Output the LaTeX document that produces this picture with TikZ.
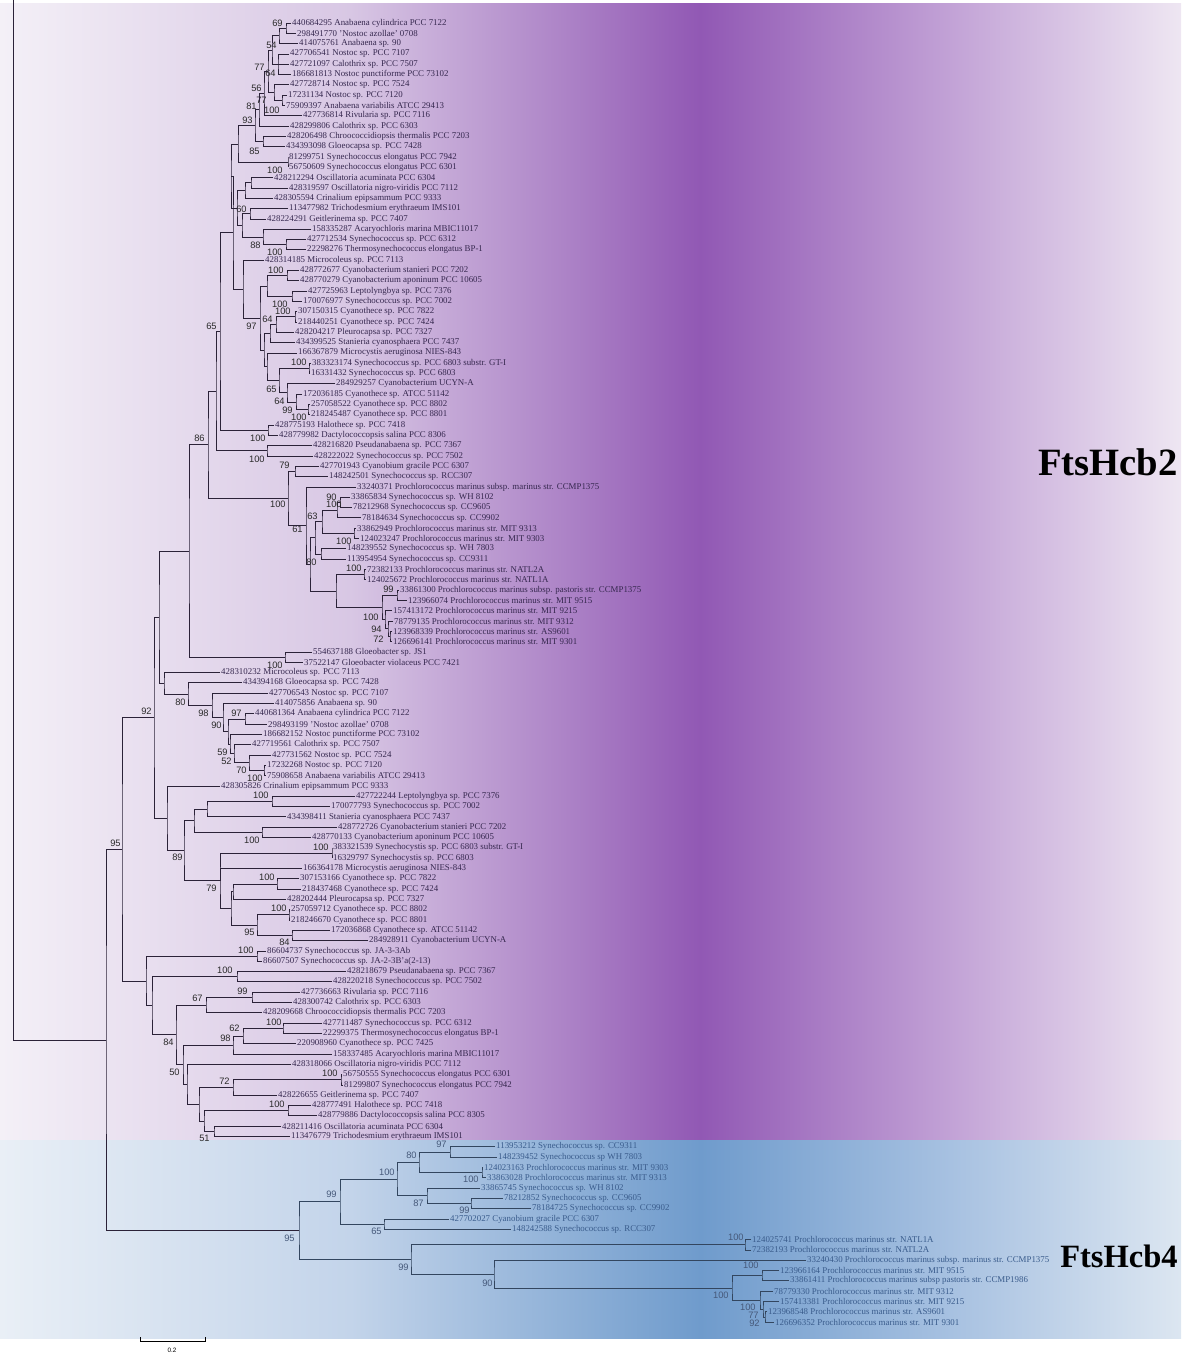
\documentclass[tikz,border=0pt]{standalone}
\usepackage{fontspec}
\setmainfont{Liberation Serif}
\newfontfamily\bootfont{Liberation Sans}
\usetikzlibrary{calc}

\definecolor{pl0}{HTML}{F4F0F7}
\definecolor{pl1}{HTML}{D8C7E4}
\definecolor{pl2}{HTML}{9158B4}
\definecolor{pl3}{HTML}{C2A2D6}
\definecolor{pl4}{HTML}{EEE6F2}
\definecolor{bl0}{HTML}{E9EFF6}
\definecolor{bl1}{HTML}{C3D4EA}
\definecolor{bl2}{HTML}{6F9BCC}
\definecolor{bl3}{HTML}{A7C1E1}
\definecolor{bl4}{HTML}{DCE6F1}
\definecolor{linep}{HTML}{2B2238}
\definecolor{leafp}{HTML}{36284F}
\definecolor{bootp}{HTML}{2A2A2A}
\definecolor{lineb}{HTML}{33465F}
\definecolor{leafbl}{HTML}{3A5C8C}
\definecolor{bootb}{HTML}{46597A}

\tikzset{
	branch/.style={line width=0.45pt, draw=linep},
	leaf/.style={anchor=west, inner xsep=0.5pt, inner ysep=0pt, text=leafp, font=\fontsize{5.05}{5.2}\selectfont},
	leafb/.style={leaf, text=leafbl},
	boot/.style={anchor=east, inner sep=0pt, text=bootp, font=\bootfont\fontsize{5.3}{6}\selectfont},
	cladename/.style={anchor=east, inner sep=0pt, font=\bfseries\fontsize{22}{24}\selectfont},
	scalelab/.style={inner sep=0pt, font=\bootfont\fontsize{3.6}{4}\selectfont}
}

% leaf: [style]{name}{row}{x}{label}
\newcommand{\leaf}[5][leaf]{\node[#1] (#2) at (#4,{23+(#3-1)*10.31}) {#5};}
% clade: {name}{x}{top child}{bottom child}{bootstrap}{bootstrap position}
\newcommand{\clade}[6]{%
	\path ($(#3)!.5!(#4)$) coordinate (#1m);
	\coordinate (#1) at (#2,0 |- #1m);
	\draw[branch] (#3) -| (#1) |- (#4);
	\if\relax\detokenize{#5}\relax\else\node[boot] (#1b) at (#6) {#5};\fi}

\begin{document}
\begin{tikzpicture}[x=0.02cm, y=-0.02cm]
	\useasboundingbox (0,0) rectangle (1181,1353);

	% background bands
	\fill[left color=pl0, right color=pl1] (0,3) rectangle (351,1140);
	\fill[left color=pl1, right color=pl2] (350,3) rectangle (701,1140);
	\fill[left color=pl2, right color=pl3] (700,3) rectangle (951,1140);
	\fill[left color=pl3, right color=pl4] (950,3) rectangle (1181,1140);
	\fill[left color=bl0, right color=bl1] (0,1140) rectangle (351,1338);
	\fill[left color=bl1, right color=bl2] (350,1140) rectangle (701,1338);
	\fill[left color=bl2, right color=bl3] (700,1140) rectangle (951,1338);
	\fill[left color=bl3, right color=bl4] (950,1140) rectangle (1181,1338);

	% FtsHcb2 leaves
	\leaf{L1}{1}{291}{440684295 Anabaena cylindrica PCC 7122}
	\leaf{L2}{2}{296}{298491770 'Nostoc azollae' 0708}
	\leaf{L3}{3}{298}{414075761 Anabaena sp. 90}
	\leaf{L4}{4}{289}{427706541 Nostoc sp. PCC 7107}
	\leaf{L5}{5}{289}{427721097 Calothrix sp. PCC 7507}
	\leaf{L6}{6}{291}{186681813 Nostoc punctiforme PCC 73102}
	\leaf{L7}{7}{289}{427728714 Nostoc sp. PCC 7524}
	\leaf{L8}{8}{287}{17231134 Nostoc sp. PCC 7120}
	\leaf{L9}{9}{285}{75909397 Anabaena variabilis ATCC 29413}
	\leaf{L10}{10}{302}{427736814 Rivularia sp. PCC 7116}
	\leaf{L11}{11}{289}{428299806 Calothrix sp. PCC 6303}
	\leaf{L12}{12}{286}{428206498 Chroococcidiopsis thermalis PCC 7203}
	\leaf{L13}{13}{285}{434393098 Gloeocapsa sp. PCC 7428}
	\leaf{L14}{14}{288}{81299751 Synechococcus elongatus PCC 7942}
	\leaf{L15}{15}{288}{56750609 Synechococcus elongatus PCC 6301}
	\leaf{L16}{16}{273}{428212294 Oscillatoria acuminata PCC 6304}
	\leaf{L17}{17}{288}{428319597 Oscillatoria nigro-viridis PCC 7112}
	\leaf{L18}{18}{273}{428305594 Crinalium epipsammum PCC 9333}
	\leaf{L19}{19}{288}{113477982 Trichodesmium erythraeum IMS101}
	\leaf{L20}{20}{266}{428224291 Geitlerinema sp. PCC 7407}
	\leaf{L21}{21}{311}{158335287 Acaryochloris marina MBIC11017}
	\leaf{L22}{22}{306}{427712534 Synechococcus sp. PCC 6312}
	\leaf{L23}{23}{306}{22298276 Thermosynechococcus elongatus BP-1}
	\leaf{L24}{24}{264}{428314185 Microcoleus sp. PCC 7113}
	\leaf{L25}{25}{299}{428772677 Cyanobacterium stanieri PCC 7202}
	\leaf{L26}{26}{299}{428770279 Cyanobacterium aponinum PCC 10605}
	\leaf{L27}{27}{307}{427725963 Leptolyngbya sp. PCC 7376}
	\leaf{L28}{28}{302}{170076977 Synechococcus sp. PCC 7002}
	\leaf{L29}{29}{297}{307150315 Cyanothece sp. PCC 7822}
	\leaf{L30}{30}{297}{218440251 Cyanothece sp. PCC 7424}
	\leaf{L31}{31}{294}{428204217 Pleurocapsa sp. PCC 7327}
	\leaf{L32}{32}{295}{434399525 Stanieria cyanosphaera PCC 7437}
	\leaf{L33}{33}{297}{166367879 Microcystis aeruginosa NIES-843}
	\leaf{L34}{34}{311}{383323174 Synechococcus sp. PCC 6803 substr. GT-I}
	\leaf{L35}{35}{310}{16331432 Synechococcus sp. PCC 6803}
	\leaf{L36}{36}{335}{284929257 Cyanobacterium UCYN-A}
	\leaf{L37}{37}{302}{172036185 Cyanothece sp. ATCC 51142}
	\leaf{L38}{38}{310}{257058522 Cyanothece sp. PCC 8802}
	\leaf{L39}{39}{310}{218245487 Cyanothece sp. PCC 8801}
	\leaf{L40}{40}{274}{428775193 Halothece sp. PCC 7418}
	\leaf{L41}{41}{278}{428779982 Dactylococcopsis salina PCC 8306}
	\leaf{L42}{42}{312}{428216820 Pseudanabaena sp. PCC 7367}
	\leaf{L43}{43}{313}{428222022 Synechococcus sp. PCC 7502}
	\leaf{L44}{44}{319}{427701943 Cyanobium gracile PCC 6307}
	\leaf{L45}{45}{328}{148242501 Synechococcus sp. RCC307}
	\leaf{L46}{46}{356}{33240371 Prochlorococcus marinus subsp. marinus str. CCMP1375}
	\leaf{L47}{47}{350}{33865834 Synechococcus sp. WH 8102}
	\leaf{L48}{48}{352}{78212968 Synechococcus sp. CC9605}
	\leaf{L49}{49}{361}{78184634 Synechococcus sp. CC9902}
	\leaf{L50}{50}{356}{33862949 Prochlorococcus marinus str. MIT 9313}
	\leaf{L51}{51}{359}{124023247 Prochlorococcus marinus str. MIT 9303}
	\leaf{L52}{52}{346}{148239552 Synechococcus sp. WH 7803}
	\leaf{L53}{53}{346}{113954954 Synechococcus sp. CC9311}
	\leaf{L54}{54}{366}{72382133 Prochlorococcus marinus str. NATL2A}
	\leaf{L55}{55}{366}{124025672 Prochlorococcus marinus str. NATL1A}
	\leaf{L56}{56}{399}{33861300 Prochlorococcus marinus subsp. pastoris str. CCMP1375}
	\leaf{L57}{57}{407}{123966074 Prochlorococcus marinus str. MIT 9515}
	\leaf{L58}{58}{392}{157413172 Prochlorococcus marinus str. MIT 9215}
	\leaf{L59}{59}{393}{78779135 Prochlorococcus marinus str. MIT 9312}
	\leaf{L60}{60}{392}{123968339 Prochlorococcus marinus str. AS9601}
	\leaf{L61}{61}{392}{126696141 Prochlorococcus marinus str. MIT 9301}
	\leaf{L62}{62}{312}{554637188 Gloeobacter sp. JS1}
	\leaf{L63}{63}{303}{37522147 Gloeobacter violaceus PCC 7421}
	\leaf{L64}{64}{220}{428310232 Microcoleus sp. PCC 7113}
	\leaf{L65}{65}{242}{434394168 Gloeocapsa sp. PCC 7428}
	\leaf{L66}{66}{268}{427706543 Nostoc sp. PCC 7107}
	\leaf{L67}{67}{274}{414075856 Anabaena sp. 90}
	\leaf{L68}{68}{254}{440681364 Anabaena cylindrica PCC 7122}
	\leaf{L69}{69}{267}{298493199 'Nostoc azollae' 0708}
	\leaf{L70}{70}{262}{186682152 Nostoc punctiforme PCC 73102}
	\leaf{L71}{71}{251}{427719561 Calothrix sp. PCC 7507}
	\leaf{L72}{72}{271}{427731562 Nostoc sp. PCC 7524}
	\leaf{L73}{73}{266}{17232268 Nostoc sp. PCC 7120}
	\leaf{L74}{74}{266}{75908658 Anabaena variabilis ATCC 29413}
	\leaf{L75}{75}{220}{428305826 Crinalium epipsammum PCC 9333}
	\leaf{L76}{76}{355}{427722244 Leptolyngbya sp. PCC 7376}
	\leaf{L77}{77}{330}{170077793 Synechococcus sp. PCC 7002}
	\leaf{L78}{78}{286}{434398411 Stanieria cyanosphaera PCC 7437}
	\leaf{L79}{79}{337}{428772726 Cyanobacterium stanieri PCC 7202}
	\leaf{L80}{80}{311}{428770133 Cyanobacterium aponinum PCC 10605}
	\leaf{L81}{81}{332}{383321539 Synechocystis sp. PCC 6803 substr. GT-I}
	\leaf{L82}{82}{332}{16329797 Synechocystis sp. PCC 6803}
	\leaf{L83}{83}{302}{166364178 Microcystis aeruginosa NIES-843}
	\leaf{L84}{84}{299}{307153166 Cyanothece sp. PCC 7822}
	\leaf{L85}{85}{301}{218437468 Cyanothece sp. PCC 7424}
	\leaf{L86}{86}{286}{428202444 Pleurocapsa sp. PCC 7327}
	\leaf{L87}{87}{290}{257059712 Cyanothece sp. PCC 8802}
	\leaf{L88}{88}{290}{218246670 Cyanothece sp. PCC 8801}
	\leaf{L89}{89}{330}{172036868 Cyanothece sp. ATCC 51142}
	\leaf{L90}{90}{368}{284928911 Cyanobacterium UCYN-A}
	\leaf{L91}{91}{266}{86604737 Synechococcus sp. JA-3-3Ab}
	\leaf{L92}{92}{262}{86607507 Synechococcus sp. JA-2-3B'a(2-13)}
	\leaf{L93}{93}{346}{428218679 Pseudanabaena sp. PCC 7367}
	\leaf{L94}{94}{332}{428220218 Synechococcus sp. PCC 7502}
	\leaf{L95}{95}{300}{427736663 Rivularia sp. PCC 7116}
	\leaf{L96}{96}{292}{428300742 Calothrix sp. PCC 6303}
	\leaf{L97}{97}{262}{428209668 Chroococcidiopsis thermalis PCC 7203}
	\leaf{L98}{98}{322}{427711487 Synechococcus sp. PCC 6312}
	\leaf{L99}{99}{322}{22299375 Thermosynechococcus elongatus BP-1}
	\leaf{L100}{100}{296}{220908960 Cyanothece sp. PCC 7425}
	\leaf{L101}{101}{332}{158337485 Acaryochloris marina MBIC11017}
	\leaf{L102}{102}{291}{428318066 Oscillatoria nigro-viridis PCC 7112}
	\leaf{L103}{103}{342}{56750555 Synechococcus elongatus PCC 6301}
	\leaf{L104}{104}{343}{81299807 Synechococcus elongatus PCC 7942}
	\leaf{L105}{105}{277}{428226655 Geitlerinema sp. PCC 7407}
	\leaf{L106}{106}{311}{428777491 Halothece sp. PCC 7418}
	\leaf{L107}{107}{317}{428779886 Dactylococcopsis salina PCC 8305}
	\leaf{L108}{108}{281}{428211416 Oscillatoria acuminata PCC 6304}
	\leaf{L109}{109}{290}{113476779 Trichodesmium erythraeum IMS101}

	% FtsHcb4 leaves
	\leaf[leafb]{L110}{110}{495}{113953212 Synechococcus sp. CC9311}
	\leaf[leafb]{L111}{111}{497}{148239452 Synechococcus sp WH 7803}
	\leaf[leafb]{L112}{112}{483}{124023163 Prochlorococcus marinus str. MIT 9303}
	\leaf[leafb]{L113}{113}{486}{33863028 Prochlorococcus marinus str. MIT 9313}
	\leaf[leafb]{L114}{114}{480}{33865745 Synechococcus sp. WH 8102}
	\leaf[leafb]{L115}{115}{503}{78212852 Synechococcus sp. CC9605}
	\leaf[leafb]{L116}{116}{531}{78184725 Synechococcus sp. CC9902}
	\leaf[leafb]{L117}{117}{449}{427702027 Cyanobium gracile PCC 6307}
	\leaf[leafb]{L118}{118}{511}{148242588 Synechococcus sp. RCC307}
	\leaf[leafb]{L119}{119}{751}{124025741 Prochlorococcus marinus str. NATL1A}
	\leaf[leafb]{L120}{120}{751}{72382193 Prochlorococcus marinus str. NATL2A}
	\leaf[leafb]{L121}{121}{806}{33240430 Prochlorococcus marinus subsp. marinus str. CCMP1375}
	\leaf[leafb]{L122}{122}{779}{123966164 Prochlorococcus marinus str. MIT 9515}
	\leaf[leafb]{L123}{123}{789}{33861411 Prochlorococcus marinus subsp pastoris str. CCMP1986}
	\leaf[leafb]{L124}{124}{773}{78779330 Prochlorococcus marinus str. MIT 9312}
	\leaf[leafb]{L125}{125}{779}{157413381 Prochlorococcus marinus str. MIT 9215}
	\leaf[leafb]{L126}{126}{767}{123968548 Prochlorococcus marinus str. AS9601}
	\leaf[leafb]{L127}{127}{774}{126696352 Prochlorococcus marinus str. MIT 9301}

	% FtsHcb2 clades
	\clade{n69}{286}{L1}{L2}{69}{283,23}
	\clade{n54}{279}{n69}{L3}{54}{277,45}
	\clade{n64}{278}{L4}{L6}{64}{276,73}
	\draw[branch] (n64) |- (L5);
	\clade{nA}{272}{n54}{n64}{}{}
	\clade{n100a}{282}{L8}{L9}{100}{280,110}
	\clade{nLs}{274}{L7}{n100a}{77}{267,100}
	\clade{nB}{268}{nA}{nLs}{77}{265,67}
	\clade{n56}{264}{nB}{L10}{56}{262,88}
	\clade{n81}{259}{n56}{L11}{81}{257,106}
	\clade{n85}{263}{L12}{L13}{85}{260,151}
	\clade{n93}{255}{n81}{n85}{93}{253,120}
	\clade{n100b}{288}{L14}{L15}{100}{283,170}
	\clade{nC}{238}{n93}{n100b}{}{}
	\clade{nD}{251}{L16}{L17}{}{}
	\clade{nE}{245}{nD}{L18}{}{}
	\clade{nF}{250}{L19}{L20}{}{}
	\clade{n100c}{286}{L22}{L23}{100}{283,252}
	\clade{n88}{263}{L21}{n100c}{88}{261,245}
	\clade{nH}{242}{nF}{n88}{60}{247,209}
	\clade{nI}{237}{nE}{nH}{}{}
	\clade{nJ}{231}{nC}{nI}{}{}
	\clade{n100d}{287}{L25}{L26}{100}{284,270}
	\clade{n100e}{292}{L27}{L28}{100}{288,304}
	\clade{nO}{267}{n100d}{n100e}{}{}
	\clade{n100f}{295}{L29}{L30}{100}{291,311}
	\clade{n64b}{276}{n100f}{L31}{64}{273,319}
	\clade{nQ}{270}{n64b}{L32}{}{}
	\clade{n100g}{309}{L34}{L35}{100}{307,362}
	\clade{n100h}{308}{L38}{L39}{100}{307,417}
	\clade{n99}{296}{L37}{n100h}{99}{293,410}
	\clade{n64c}{287}{L36}{n99}{64}{285,401}
	\clade{n65b}{279}{n100g}{n64c}{65}{277,389}
	\clade{nR}{267}{L33}{n65b}{}{}
	\clade{nP}{264}{nQ}{nR}{}{}
	\clade{nN}{260}{nO}{nP}{97}{257,326}
	\clade{nK}{243}{L24}{nN}{}{}
	\clade{nM}{233}{nJ}{nK}{}{}
	\clade{n100i}{268}{L40}{L41}{100}{266,438}
	\clade{nS}{220}{nM}{n100i}{65}{217,326}
	\clade{n100j}{267}{L42}{L43}{100}{265,459}
	\clade{nT}{216}{nS}{n100j}{}{}
	\clade{n79}{295}{L44}{L45}{79}{290,465}
	\clade{n90}{340}{L47}{L48}{90}{337,497}
	\clade{n100k}{337}{n90}{L49}{100}{342,504}
	\clade{n100l}{354}{L50}{L51}{100}{352,541}
	\clade{nX}{322}{n100k}{n100l}{63}{318,516}
	\clade{nZ}{321}{L52}{L53}{}{}
	\clade{nXZ}{315}{nX}{nZ}{}{}
	\clade{n100m}{364}{L54}{L55}{100}{362,568}
	\clade{n99b}{397}{L56}{L57}{99}{394,589}
	\clade{n72}{390}{L60}{L61}{72}{384,639}
	\clade{n94}{388}{L59}{n72}{94}{382,629}
	\clade{nHLa}{385}{L58}{n94}{}{}
	\clade{n100n}{382}{n99b}{nHLa}{100}{379,617}
	\clade{nY}{336}{n100m}{n100n}{}{}
	\clade{nW}{310}{nXZ}{nY}{80}{317,562}
	\clade{nV}{306}{L46}{nW}{61}{303,529}
	\clade{nU}{288}{n79}{nV}{100}{286,504}
	\clade{n86}{208}{nT}{nU}{86}{205,438}
	\clade{n100o}{285}{L62}{L63}{100}{283,665}
	\clade{nGl}{189}{n86}{n100o}{}{}
	\clade{n97}{245}{L68}{L69}{97}{242,713}
	\clade{n100p}{264}{L73}{L74}{100}{263,778}
	\clade{n70}{249}{L72}{n100p}{70}{247,770}
	\clade{n52}{234}{L71}{n70}{52}{232,761}
	\clade{n59}{230}{L70}{n52}{59}{228,752}
	\clade{nY2}{228}{n97}{n59}{}{}
	\clade{nX90}{223}{L67}{nY2}{90}{222,725}
	\clade{n98}{212}{L66}{nX90}{98}{209,713}
	\clade{n80}{188}{L65}{n98}{80}{186,702}
	\clade{nMic}{164}{L64}{n80}{}{}
	\clade{nQ1}{159}{nGl}{nMic}{}{}
	\clade{n100r}{272}{L76}{L77}{100}{269,795}
	\clade{nSt}{207}{n100r}{L78}{}{}
	\clade{n100s}{262}{L79}{L80}{100}{260,840}
	\clade{nA2}{194}{nSt}{n100s}{}{}
	\clade{n100t}{332}{L81}{L82}{100}{329,847}
	\clade{n100u}{277}{L84}{L85}{100}{275,877}
	\clade{nD2}{233}{n100u}{L86}{}{}
	\clade{n100v}{289}{L87}{L88}{100}{287,908}
	\clade{n84}{292}{L89}{L90}{84}{290,942}
	\clade{n95c}{257}{n100v}{n84}{95}{255,932}
	\clade{nC2}{231}{nD2}{n95c}{}{}
	\clade{n79b}{220}{n100t}{nC2}{79}{217,888}
	\draw[branch] (n79b) |- (L83);
	\clade{n89}{184}{nA2}{n79b}{89}{183,857}
	\clade{nCy}{167}{L75}{n89}{}{}
	\clade{n92}{154}{nQ1}{nCy}{92}{152,711}
	\clade{n100w}{257}{L91}{L92}{100}{254,950}
	\clade{n100x}{237}{L93}{L94}{100}{233,970}
	\clade{n99c}{252}{L95}{L96}{99}{248,991}
	\clade{n67}{206}{n99c}{L97}{67}{203,998}
	\clade{n100y}{283}{L98}{L99}{100}{282,1022}
	\clade{n62}{243}{n100y}{L100}{62}{240,1028}
	\clade{n98b}{233}{n62}{L101}{98}{231,1038}
	\clade{n100z}{341}{L103}{L104}{100}{338,1073}
	\clade{n72b}{233}{n100z}{L105}{72}{230,1081}
	\clade{n100aa}{288}{L106}{L107}{100}{285,1104}
	\clade{n51}{214}{L108}{L109}{51}{210,1138}
	\clade{nOa}{204}{n100aa}{n51}{}{}
	\clade{nOb}{199}{n72b}{nOa}{}{}
	\clade{nOc}{187}{L102}{nOb}{}{}
	\clade{n50}{183}{n98b}{nOc}{50}{180,1072}
	\clade{n84b}{176}{n67}{n50}{84}{174,1042}
	\clade{nH2}{152}{n100x}{n84b}{}{}
	\clade{nG}{146}{n100w}{nH2}{}{}
	\clade{nP1}{122}{n92}{nG}{95}{121,843}

	% FtsHcb4 clades
	\begin{scope}[branch/.append style={draw=lineb}, boot/.append style={text=bootb}]
	\clade{n97b}{450}{L110}{L111}{97}{447,1144}
	\clade{n100ac}{482}{L112}{L113}{100}{479,1179}
	\clade{n80c}{419}{n97b}{n100ac}{80}{417,1155}
	\clade{n99f}{471}{L115}{L116}{99}{470,1210}
	\clade{n87}{427}{L114}{n99f}{87}{424,1203}
	\clade{n100ab}{397}{n80c}{n87}{100}{395,1172}
	\clade{n65c}{384}{L117}{L118}{65}{382,1231}
	\clade{n99d}{340}{n100ab}{n65c}{99}{337,1194}
	\clade{n100ad}{745}{L119}{L120}{100}{744,1237}
	\clade{n100ae}{762}{L122}{L123}{100}{759,1265}
	\clade{n92b}{765}{L126}{L127}{92}{760,1323}
	\clade{n77c}{763}{L125}{n92b}{77}{759,1315}
	\clade{nHL3}{760}{L124}{n77c}{100}{756,1307}
	\clade{nHL2}{732}{n100ae}{nHL3}{100}{729,1295}
	\clade{n90b}{494}{L121}{nHL2}{90}{493,1283}
	\clade{n99e}{411}{n100ad}{n90b}{99}{409,1267}
	\clade{n95b}{299}{n99d}{n99e}{95}{295,1238}
	\end{scope}

	% root
	\clade{nR95}{106}{nP1}{n95b}{}{}
	\coordinate (top) at (13,0);
	\draw[branch] (top) |- (nR95);

	% group names
	\node[cladename] (cb2) at (1178,462) {FtsHcb2};
	\node[cladename, font=\bfseries\fontsize{18.5}{20}\selectfont] (cb4) at (1178,1256) {FtsHcb4};

	% scale bar
	\coordinate (sb1) at (140,1341);
	\coordinate (sb2) at (205,1341);
	\draw[branch, draw=black] (sb1) ++(0,-4) -- (sb1) -- (sb2) -- ++(0,-4);
	\node[scalelab] (sbl) at (172,1350) {0.2};
\end{tikzpicture}
\end{document}
